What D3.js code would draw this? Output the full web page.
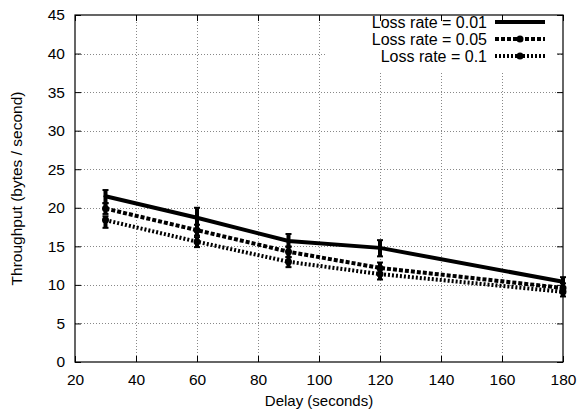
<!DOCTYPE html>
<html><head><meta charset="utf-8">
<script src="https://cdn.jsdelivr.net/npm/d3@7"></script>
<style>body{margin:0;background:#fff}svg{display:block}text{font-family:"Liberation Sans",Arial,sans-serif}</style>
</head><body><svg id="c" width="580" height="413"></svg>
<script>
const delays = [30, 60, 90, 120, 180];
const labels = ["Loss rate = 0.01", "Loss rate = 0.05", "Loss rate = 0.1"];
const means01 = [21.5, 18.7, 15.7, 14.8, 10.4];
const lo01 = [20.6, 17.1, 14.9, 13.7, 9.4];
const hi01 = [22.3, 20.0, 16.6, 15.8, 11.0];
const means05 = [19.9, 17.1, 14.3, 12.2, 9.6];
const lo05 = [19.2, 16.4, 13.6, 11.5, 9.0];
const hi05 = [20.6, 17.8, 15.0, 12.9, 10.2];
const means10 = [18.4, 15.6, 13.0, 11.4, 9.1];
const lo10 = [17.4, 14.9, 12.3, 10.7, 8.5];
const hi10 = [18.9, 16.2, 13.6, 12.0, 9.6];
const xTicks = [20, 40, 60, 80, 100, 120, 140, 160, 180];
const yTicks = [0, 5, 10, 15, 20, 25, 30, 35, 40, 45];

const series = [
  {label: labels[0], m: means01, lo: lo01, hi: hi01, dash: null, r: 2},
  {label: labels[1], m: means05, lo: lo05, hi: hi05, dash: "4,2", r: 3.5},
  {label: labels[2], m: means10, lo: lo10, hi: hi10, dash: "2,2", r: 3.5}
];

const L = 75, R = 563, T = 15, B = 362;
const x = d3.scaleLinear().domain([20, 180]).range([L, R]);
const y = d3.scaleLinear().domain([0, 45]).range([B, T]);
const svg = d3.select("#c");

// grid
const grid = svg.append("g").attr("stroke", "#888").attr("stroke-width", 1).attr("stroke-dasharray", "1,2");
grid.selectAll(".gx").data(xTicks.slice(1, -1)).enter().append("line")
  .attr("x1", d => x(d) + 0.5).attr("x2", d => x(d) + 0.5).attr("y1", B).attr("y2", T);
grid.selectAll(".gy").data(yTicks.slice(1, -1)).enter().append("line")
  .attr("y1", d => Math.round(y(d)) + 0.5).attr("y2", d => Math.round(y(d)) + 0.5).attr("x1", L).attr("x2", R);

// legend background
svg.append("rect").attr("x", 326).attr("y", T + 1).attr("width", 230).attr("height", 56).attr("fill", "#fff");

// axes
const ax = svg.append("g").attr("transform", `translate(0,${B})`)
  .call(d3.axisBottom(x).tickValues(xTicks).tickSizeInner(-6).tickSizeOuter(0).tickPadding(12));
const ay = svg.append("g").attr("transform", `translate(${L},0)`)
  .call(d3.axisLeft(y).tickValues(yTicks).tickSizeInner(-6).tickSizeOuter(0).tickPadding(10));
const axT = svg.append("g").attr("transform", `translate(0,${T})`)
  .call(d3.axisTop(x).tickValues(xTicks).tickSizeInner(-6).tickSizeOuter(0).tickFormat(""));
const ayR = svg.append("g").attr("transform", `translate(${R},0)`)
  .call(d3.axisRight(y).tickValues(yTicks).tickSizeInner(-6).tickSizeOuter(0).tickFormat(""));
[ax, ay, axT, ayR].forEach(g => {
  g.select(".domain").remove();
  g.selectAll("line").attr("stroke", "#000");
  g.selectAll("text").attr("font-size", 15.5).attr("fill", "#000");
});
svg.append("rect").attr("x", L).attr("y", T).attr("width", R - L).attr("height", B - T)
  .attr("fill", "none").attr("stroke", "#000").attr("stroke-width", 1.2);

// titles
svg.append("text").attr("x", (L + R) / 2).attr("y", 406).attr("text-anchor", "middle")
  .attr("font-size", 15).text("Delay (seconds)");
svg.append("text").attr("transform", `translate(22,${(T + B) / 2}) rotate(-90)`).attr("text-anchor", "middle")
  .attr("font-size", 15.5).text("Throughput (bytes / second)");

// series
const line = d3.line().x(d => x(d[0])).y(d => y(d[1]));
series.forEach((s, si) => {
  const g = svg.append("g");
  const pts = delays.map((d, i) => [d, s.m[i], s.lo[i], s.hi[i]]);
  g.append("path").datum(pts).attr("d", line).attr("fill", "none").attr("stroke", "#000")
    .attr("stroke-width", 4).attr("stroke-dasharray", s.dash);
  g.selectAll(".eb").data(pts).enter().append("line")
    .attr("x1", d => x(d[0])).attr("x2", d => x(d[0])).attr("y1", d => y(d[2])).attr("y2", d => y(d[3]))
    .attr("stroke", "#000").attr("stroke-width", 4);
  g.selectAll(".cap").data(pts.flatMap(d => [[d[0], d[2]], [d[0], d[3]]])).enter().append("line")
    .attr("x1", d => x(d[0]) - 3).attr("x2", d => x(d[0]) + 3).attr("y1", d => y(d[1])).attr("y2", d => y(d[1]))
    .attr("stroke", "#000").attr("stroke-width", 2);
  g.selectAll("circle").data(pts).enter().append("circle")
    .attr("cx", d => x(d[0])).attr("cy", d => y(d[1])).attr("r", s.r).attr("fill", "#000");
  // legend
  const ly = 22 + si * 17;
  svg.append("text").attr("x", 487).attr("y", ly + 5.5).attr("text-anchor", "end").attr("font-size", 16).text(s.label);
  svg.append("line").attr("x1", 495).attr("x2", 545).attr("y1", ly).attr("y2", ly)
    .attr("stroke", "#000").attr("stroke-width", 4).attr("stroke-dasharray", s.dash);
  svg.append("circle").attr("cx", 520).attr("cy", ly).attr("r", s.r).attr("fill", "#000");
});
</script></body></html>
